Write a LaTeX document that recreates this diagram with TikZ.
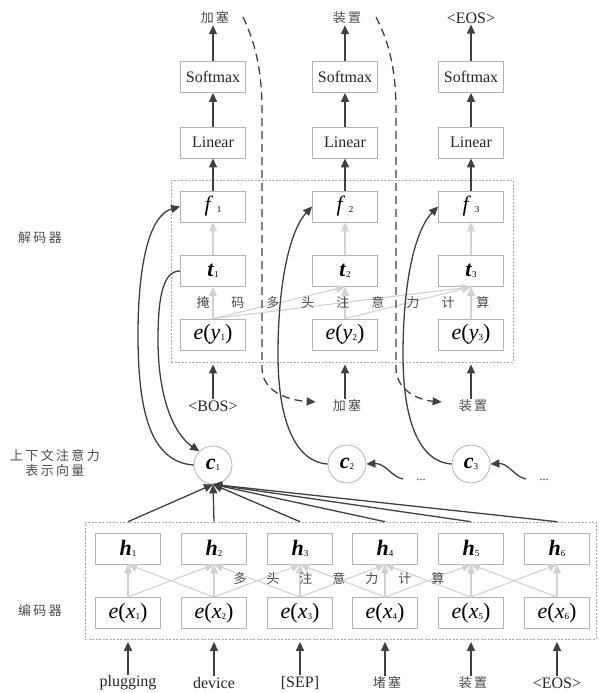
\documentclass[tikz,border=0pt]{standalone}
\usepackage{fontspec}
\setmainfont{Liberation Serif}
\newfontfamily\cjk[LetterSpace=18]{Noto Sans CJK SC}
\usetikzlibrary{arrows.meta,calc}
\definecolor{dk}{HTML}{404040}
\definecolor{lg}{HTML}{D2D2D2}
\definecolor{bx}{HTML}{B4B4B4}
\definecolor{fr}{HTML}{A8A8A8}
\newcommand{\sbs}[1]{\raisebox{-1pt}{\fontsize{9}{9}\selectfont\upshape\mdseries #1}}
\newcommand{\cb}[2]{\makebox[#1]{#2}}
\begin{document}
\begin{tikzpicture}[x=1pt,y=-1pt,
 box/.style={draw=bx, line width=0.8pt, minimum width=65pt, minimum height=31pt, inner sep=0pt, fill=white},
 frame/.style={draw=fr, line width=0.6pt, dash pattern=on 2pt off 1.5pt, inner sep=0pt},
 darr/.style={draw=dk, line width=1.3pt, -{Triangle[length=9pt,width=8pt]}},
 garr/.style={draw=lg, line width=1.1pt, -{Triangle[length=9pt,width=8pt]}},
 dsh/.style={draw=dk, line width=1.3pt, dash pattern=on 8pt off 5pt, -{Triangle[length=9pt,width=8pt]}},
 cn/.style={circle, draw=bx, line width=0.8pt, minimum size=38pt, inner sep=0pt, fill=white},
 lab/.style={font=\fontsize{16}{16}\selectfont, text=black!85, inner sep=1pt},
 cjklab/.style={font=\cjk\fontsize{13}{15}\selectfont, text=black!70, inner sep=1pt},
 mt/.style={font=\fontsize{22}{22}\selectfont}
]
\useasboundingbox (0,0) rectangle (598,693);

% frames
\node[frame, minimum width=342pt, minimum height=182pt] (decframe) at (342,271) {};
\node[frame, minimum width=511pt, minimum height=117pt] (encframe) at (340.5,580.5) {};

% decoder columns
\foreach \i/\x in {1/213,2/345,3/471}{
  \node[box, lab] (sm\i) at (\x,77) {Softmax};
  \node[box, lab] (ln\i) at (\x,142.5) {Linear};
  \node[box, mt] (f\i) at (\x,206.5) {\textit{f}\,\sbs{\i}};
  \node[box, mt] (t\i) at (\x,271) {\textbf{\textit{t}}\sbs{\i}};
  \node[box, mt] (ey\i) at (\x,334.5) {\textit{e}(\textit{y}\sbs{\i})};
}

% outputs
\node[cjklab] (o1) at (215,18) {加塞};
\node[cjklab] (o2) at (347,18) {装置};
\node[lab] (o3) at (471,18) {<EOS>};
% decoder inputs
\node[lab] (i1) at (213,406) {<BOS>};
\node[cjklab] (i2) at (347,406) {加塞};
\node[cjklab] (i3) at (473,406) {装置};

\foreach \i in {1,2,3}{
  \draw[darr] (sm\i) -- (sm\i |- o\i.south);
  \draw[darr] (ln\i) -- (sm\i);
  \draw[darr] (f\i) -- (ln\i);
  \draw[garr] (t\i) -- (f\i);
  \draw[darr, shorten >=14pt] (ey\i.south |- i\i.north) -- (ey\i.south);
}
% masked attention
\draw[garr] (ey1.north) -- (t1.south);
\draw[garr] (ey1.north) -- (t2.south);
\draw[garr] (ey1.north) -- (t3.south);
\draw[garr] (ey2.north) -- (t2.south);
\draw[garr] (ey2.north) -- (t3.south);
\draw[garr] (ey3.north) -- (t3.south);
\node[cjklab, font=\fontsize{13}{15}\selectfont\cjk] (dtxt) at (343,303) {\cb{35pt}{掩}\cb{35pt}{码}\cb{35pt}{多}\cb{35pt}{头}\cb{35pt}{注}\cb{35pt}{意}\cb{35pt}{力}\cb{35pt}{计}\cb{35pt}{算}};

% context vectors
\node[cn, mt] (c1) at (213,465) {\textbf{\textit{c}}\sbs{1}};
\node[cn, mt] (c2) at (347,464) {\textbf{\textit{c}}\sbs{2}};
\node[cn, mt] (c3) at (471,464) {\textbf{\textit{c}}\sbs{3}};
\node[lab, font=\fontsize{12}{12}\selectfont] (d2) at (421,480) {...};
\node[lab, font=\fontsize{12}{12}\selectfont] (d3) at (544,480) {...};

% encoder
\foreach \i/\x in {1/128,2/214,3/300,4/385,5/471,6/557}{
  \node[box, mt] (h\i) at (\x,548.5) {\textbf{\textit{h}}\sbs{\i}};
  \node[box, mt] (ex\i) at (\x,613) {\textit{e}(\textit{x}\sbs{\i})};
}
\node[lab] (x1) at (128,683) {plugging};
\node[lab] (x2) at (214,683) {device};
\node[lab] (x3) at (300,683) {[SEP]};
\node[cjklab] (x4) at (387,683) {堵塞};
\node[cjklab] (x5) at (473,683) {装置};
\node[lab] (x6) at (557,683) {<EOS>};

\foreach \i in {1,...,6}{
  \draw[darr, shorten >=13pt] (ex\i.south |- x\i.north) -- (ex\i.south);
  \draw[garr] (ex\i.north) -- (h\i.south);
  \draw[darr] (h\i.north |- encframe.north) -- (c1.south);
}
\foreach \a/\b in {1/2,2/1,2/3,3/2,3/4,4/3,4/5,5/4,5/6,6/5}{
  \draw[garr] (ex\a.north) -- (h\b.south);
}
\node[cjklab, font=\fontsize{13}{15}\selectfont\cjk] (etxt) at (339,579) {\cb{33pt}{多}\cb{33pt}{头}\cb{33pt}{注}\cb{33pt}{意}\cb{33pt}{力}\cb{33pt}{计}\cb{33pt}{算}};

% curves
\draw[darr] (c1.west) .. controls (150,462) and (138,410) .. (138,335) .. controls (138,262) and (150,215) .. (f1.west);
\draw[darr] (t1.west) .. controls (165,271) and (158,290) .. (158,340) .. controls (158,400) and (175,435) .. (c1.north west);
\draw[darr] (c2.west) .. controls (295,462) and (278,420) .. (278,355) .. controls (278,275) and (292,228) .. (f2.west);
\draw[darr] (c3.west) .. controls (419,462) and (403,420) .. (403,355) .. controls (403,275) and (417,228) .. (f3.west);

\coordinate (s2) at (403,479);
\coordinate (s3) at (526,479);
\draw[darr] (s2) .. controls (392,477) and (385,463) .. (c2.east);
\draw[darr] (s3) .. controls (515,477) and (508,463) .. (c3.east);

% dashed feedback
\coordinate (da) at (243,17);
\coordinate (db) at (376,17);
\draw[dsh] (da) .. controls (255,42) and (262,70) .. (262,110) -- (262,368) .. controls (262,390) and (285,400) .. ($(i2.west)+(-16,-4)$);
\draw[dsh] (db) .. controls (389,42) and (396,70) .. (396,110) -- (396,368) .. controls (396,390) and (418,400) .. ($(i3.west)+(-16,-4)$);

% side labels
\node[cjklab] (dec) at (40,238) {解码器};
\node[cjklab, align=center] (ctx) at (55,463) {上下文注意力\\表示向量};
\node[cjklab] (enc) at (40,611) {编码器};
\end{tikzpicture}
\end{document}
